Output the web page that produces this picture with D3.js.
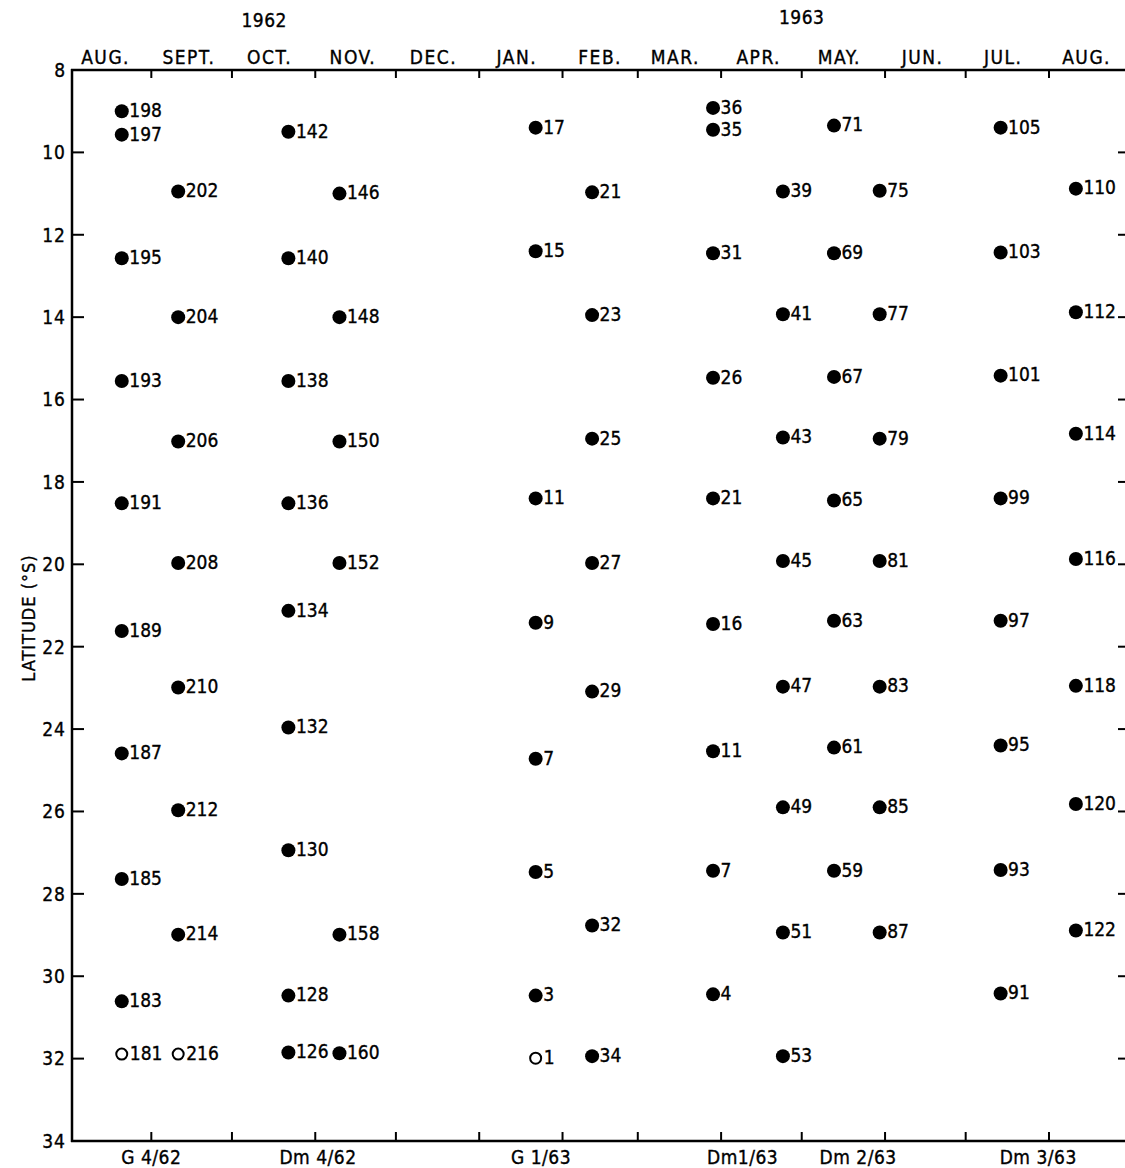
<!DOCTYPE html>
<head>
  <meta charset="UTF-8">
  <title>latitude</title>
  <style>
  body, html, svg{
    padding: 0;
    margin: 0;
  }
  body{
    background: #fff;
  }
  text{
    font-family: "DejaVu Sans Condensed", "DejaVu Sans", sans-serif;
    font-stretch: condensed;
    fill: #000;
    stroke: #000;
    stroke-width: 0.35px;
  }
  </style>
</head>
<body>
  <script src="https://cdn.jsdelivr.net/npm/d3@7"></script>
  <script type="text/javascript">
  var width = 1125;
  var height = 1168;

  // month labels along the top, one per month
  var monthNames = ['AUG.', 'SEPT.', 'OCT.', 'NOV.', 'DEC.', 'JAN.', 'FEB.', 'MAR.', 'APR.', 'MAY.', 'JUN.', 'JUL.', 'AUG.'];
  var yearNames = ['1962', '1963'];
  var yearDates = ['1962-10-13', '1963-05-01'];

  // cruise names under the bottom axis
  var cruiseNames = ['G 4/62', 'Dm 4/62', 'G 1/63', 'Dm1/63', 'Dm 2/63', 'Dm 3/63'];
  var cruiseDates = ['1962-09-01', '1962-11-02', '1963-01-24', '1963-04-09', '1963-05-22', '1963-07-28'];

  // station columns
  var columnDates = ['1962-08-21', '1962-09-11', '1962-10-22', '1962-11-10', '1963-01-22', '1963-02-12',
                     '1963-03-29', '1963-04-24', '1963-05-13', '1963-05-30', '1963-07-14', '1963-08-11'];
  var columnStations = [
    [198, 197, 195, 193, 191, 189, 187, 185, 183, 181],
    [202, 204, 206, 208, 210, 212, 214, 216],
    [142, 140, 138, 136, 134, 132, 130, 128, 126],
    [146, 148, 150, 152, 158, 160],
    [17, 15, 11, 9, 7, 5, 3, 1],
    [21, 23, 25, 27, 29, 32, 34],
    [36, 35, 31, 26, 21, 16, 11, 7, 4],
    [39, 41, 43, 45, 47, 49, 51, 53],
    [71, 69, 67, 65, 63, 61, 59],
    [75, 77, 79, 81, 83, 85, 87],
    [105, 103, 101, 99, 97, 95, 93, 91],
    [110, 112, 114, 116, 118, 120, 122]
  ];
  var columnLats = [
    [9.0, 9.57, 12.57, 15.55, 18.52, 21.62, 24.59, 27.64, 30.61, 31.89],
    [10.95, 14.0, 17.02, 19.97, 22.99, 25.97, 28.99, 31.89],
    [9.5, 12.57, 15.55, 18.52, 21.13, 23.96, 26.94, 30.47, 31.85],
    [11.0, 14.0, 17.02, 19.97, 28.99, 31.87],
    [9.4, 12.4, 18.4, 21.42, 24.72, 27.47, 30.47, 31.99],
    [10.97, 13.95, 16.95, 19.97, 23.09, 28.77, 31.94],
    [8.92, 9.45, 12.45, 15.47, 18.4, 21.45, 24.54, 27.44, 30.44],
    [10.95, 13.93, 16.92, 19.92, 22.97, 25.9, 28.94, 31.94],
    [9.35, 12.45, 15.45, 18.45, 21.37, 24.45, 27.44],
    [10.93, 13.93, 16.95, 19.92, 22.97, 25.9, 28.94],
    [9.4, 12.43, 15.42, 18.4, 21.37, 24.4, 27.42, 30.42],
    [10.88, 13.88, 16.83, 19.87, 22.95, 25.82, 28.89]
  ];
  // open circles
  var openStations = [[181], [216], [], [], [1], [], [], [], [], [], [], []];

  var latTicks = [8, 10, 12, 14, 16, 18, 20, 22, 24, 26, 28, 30, 32, 34];

  var parse = d3.timeParse('%Y-%m-%d');

  var svg = d3.select('body')
    .append('svg')
    .attr('width', width)
    .attr('height', height);

  var x = d3.scaleTime()
    .domain([new Date(1962, 7, 1), new Date(1963, 7, 1)])
    .range([68, 1049]);
  var y = d3.scaleLinear()
    .domain([8, 34])
    .range([70, 1141]);

  var axLeft = 72, axRight = 1125;
  var axTop = y(8), axBottom = y(34);

  var monthTicks = d3.timeMonth.range(new Date(1962, 8, 1), new Date(1963, 7, 2));

  //top axis
  var gTop = svg.append('g').attr('transform', 'translate(0,' + axTop + ')');
  gTop.append('line')
    .attr('x1', axLeft - 1).attr('x2', axRight)
    .attr('stroke', '#000').attr('stroke-width', 2.5);
  gTop.selectAll('.tk')
    .data(monthTicks)
    .enter()
    .append('line')
    .attr('x1', function(d){ return x(d); })
    .attr('x2', function(d){ return x(d); })
    .attr('y1', 0).attr('y2', 8)
    .attr('stroke', '#000').attr('stroke-width', 2);
  gTop.selectAll('text')
    .data(monthNames)
    .enter()
    .append('text')
    .attr('x', function(d, i){ return x(new Date(1962, 7 + i, 15)); })
    .attr('y', -6)
    .attr('text-anchor', 'middle')
    .attr('font-size', 19)
    .attr('letter-spacing', 1.5)
    .text(function(d){ return d; });

  svg.selectAll('.year')
    .data(yearNames)
    .enter()
    .append('text')
    .attr('x', function(d, i){ return x(parse(yearDates[i])); })
    .attr('y', function(d, i){ return i === 0 ? 27 : 24; })
    .attr('text-anchor', 'middle')
    .attr('font-size', 19)
    .attr('letter-spacing', 0.5)
    .text(function(d){ return d; });

  //bottom axis
  var gBot = svg.append('g').attr('transform', 'translate(0,' + axBottom + ')');
  gBot.append('line')
    .attr('x1', axLeft - 1).attr('x2', axRight)
    .attr('stroke', '#000').attr('stroke-width', 2.5);
  gBot.selectAll('.tk')
    .data(monthTicks)
    .enter()
    .append('line')
    .attr('x1', function(d){ return x(d); })
    .attr('x2', function(d){ return x(d); })
    .attr('y1', 0).attr('y2', -9)
    .attr('stroke', '#000').attr('stroke-width', 2);
  gBot.selectAll('text')
    .data(cruiseNames)
    .enter()
    .append('text')
    .attr('x', function(d, i){ return x(parse(cruiseDates[i])); })
    .attr('y', 23)
    .attr('text-anchor', 'middle')
    .attr('font-size', 19)
    .attr('letter-spacing', 0.5)
    .text(function(d){ return d; });

  //left axis
  var gLeft = svg.append('g').attr('transform', 'translate(' + axLeft + ',0)');
  gLeft.append('line')
    .attr('y1', axTop - 1).attr('y2', axBottom + 1)
    .attr('stroke', '#000').attr('stroke-width', 2.5);
  gLeft.selectAll('.tk')
    .data(latTicks.slice(1, -1))
    .enter()
    .append('line')
    .attr('y1', function(d){ return y(d); })
    .attr('y2', function(d){ return y(d); })
    .attr('x1', 0).attr('x2', 12)
    .attr('stroke', '#000').attr('stroke-width', 2);
  gLeft.selectAll('text')
    .data(latTicks)
    .enter()
    .append('text')
    .attr('x', -6)
    .attr('y', function(d){ return y(d); })
    .attr('dy', '0.36em')
    .attr('text-anchor', 'end')
    .attr('font-size', 19)
    .attr('letter-spacing', 1)
    .text(function(d){ return d; });

  svg.append('text')
    .attr('transform', 'translate(35,' + 618 + ') rotate(-90)')
    .attr('text-anchor', 'middle')
    .attr('font-size', 18)
    .attr('letter-spacing', 1)
    .text('LATITUDE (°S)');

  //right side ticks, no frame line
  svg.append('g')
    .selectAll('line')
    .data(latTicks.slice(1, -1))
    .enter()
    .append('line')
    .attr('x1', 1118).attr('x2', 1125)
    .attr('y1', function(d){ return y(d); })
    .attr('y2', function(d){ return y(d); })
    .attr('stroke', '#000').attr('stroke-width', 2);

  //stations
  var points = [];
  columnStations.forEach(function(col, i){
    col.forEach(function(st, j){
      points.push({
        date: parse(columnDates[i]),
        lat: columnLats[i][j],
        station: st,
        open: openStations[i].indexOf(st) >= 0
      });
    });
  });

  var g = svg.append('g')
    .selectAll('g')
    .data(points)
    .enter()
    .append('g')
    .attr('transform', function(d){ return 'translate(' + x(d.date) + ',' + y(d.lat) + ')'; });

  g.append('circle')
    .attr('r', function(d){ return d.open ? 5.5 : 7; })
    .attr('fill', function(d){ return d.open ? '#fff' : '#000'; })
    .attr('stroke', '#000')
    .attr('stroke-width', function(d){ return d.open ? 2 : 0; });

  g.append('text')
    .attr('x', function(d){ return d.open ? 8 : 7.5; })
    .attr('y', -1)
    .attr('dy', '0.36em')
    .attr('font-size', 19)
    .text(function(d){ return d.station; });

  </script>
</body>
</html>
